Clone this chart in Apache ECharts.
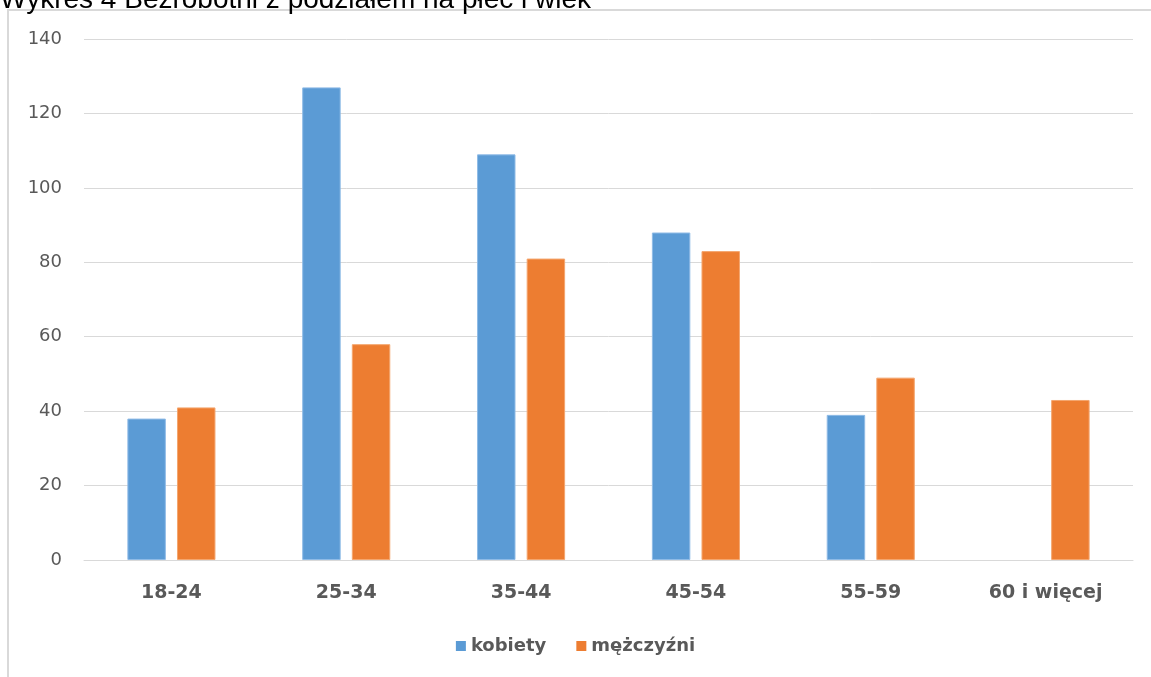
<!DOCTYPE html>
<html>
<head>
<meta charset="utf-8">
<script src="https://cdn.jsdelivr.net/npm/echarts@6/dist/echarts.min.js"></script>
<style>html,body{margin:0;padding:0;background:#fff;}#c{width:1151px;height:677px;}</style>
</head>
<body>
<div id="c"></div>
<script>
const categories = ['18-24', '25-34', '35-44', '45-54', '55-59', '60 i więcej'];
const kobiety = [38, 127, 109, 88, 39, null];
const mezczyzni = [41, 58, 81, 83, 49, 43];
const yTicks = { min: 0, max: 140, interval: 20 };
const titleText = 'Wykres 4 Bezrobotni z podziałem na płeć i wiek';

const FONT = '"DejaVu Sans", "Noto Sans", sans-serif';
const chart = echarts.init(document.getElementById('c'));
chart.setOption({
  backgroundColor: '#fff',
  animation: false,
  graphic: [
    { type: 'rect', shape: { x: 8, y: 10, width: 1300, height: 800 }, style: { fill: 'none', stroke: '#d9d9d9', lineWidth: 2 }, z: -1 },
    { type: 'text', x: 0, y: -14, style: { text: titleText, font: '28px "Liberation Sans", Arial, sans-serif', fill: '#000' } }
  ],
  grid: { left: 84, right: 18, top: 39, bottom: 117 },
  legend: {
    bottom: 17, left: 'center',
    itemWidth: 10, itemHeight: 10, itemGap: 30,
    icon: 'rect',
    itemStyle: { borderWidth: 0 },
    textStyle: { fontSize: 18, fontWeight: 'bold', color: '#595959', fontFamily: FONT },
    data: ['kobiety', 'mężczyźni']
  },
  xAxis: {
    type: 'category', data: categories,
    axisLine: { show: true, lineStyle: { color: '#d9d9d9', width: 1 } },
    axisTick: { show: false },
    axisLabel: { color: '#595959', fontSize: 19, fontWeight: 'bold', margin: 24, fontFamily: FONT }
  },
  yAxis: {
    type: 'value', min: yTicks.min, max: yTicks.max, interval: yTicks.interval,
    axisLine: { show: false }, axisTick: { show: false },
    splitLine: { lineStyle: { color: '#d9d9d9', width: 1 } },
    axisLabel: { color: '#595959', fontSize: 18, margin: 22, fontFamily: FONT }
  },
  series: [
    { name: 'kobiety', type: 'bar', data: kobiety, barWidth: '22%', barGap: '29%',
      itemStyle: { color: '#5B9BD5', borderColor: '#8fbbe6', borderWidth: 1 } },
    { name: 'mężczyźni', type: 'bar', data: mezczyzni, barWidth: '22%', barGap: '29%',
      itemStyle: { color: '#ED7D31', borderColor: '#f4a66f', borderWidth: 1 } }
  ]
});
</script>
</body>
</html>
